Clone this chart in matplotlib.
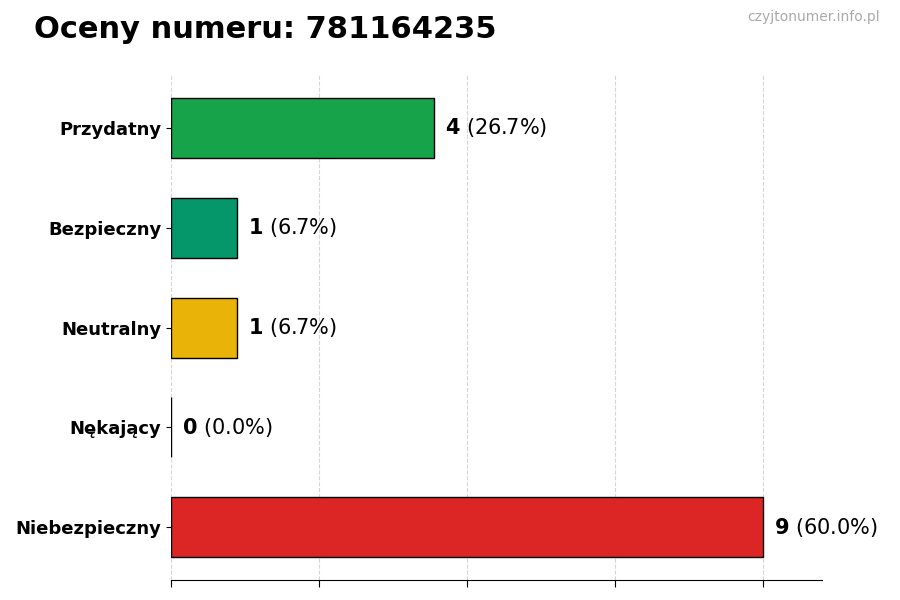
import matplotlib.pyplot as plt

# data
categories = ['Przydatny', 'Bezpieczny', 'Neutralny', 'Nękający', 'Niebezpieczny']
counts = [4, 1, 1, 0, 9]
colors = ['#16a34a', '#059669', '#eab308', '#6b7280', '#dc2626']
number = '781164235'

total = sum(counts)

fig = plt.figure(figsize=(9, 6), dpi=100)
ax = fig.add_axes([0.19, 0.033, 0.723, 0.842])

ypos = list(range(len(categories)))
ax.barh(ypos, counts, height=0.6, color=colors, edgecolor='black', linewidth=1, zorder=3)
ax.invert_yaxis()

ax.set_yticks(ypos)
ax.set_yticklabels(categories, fontsize=13, fontweight='bold')

xmax = max(counts)
ax.set_xlim(0, xmax * 1.1)
ax.set_xticks([xmax * i / 4 for i in range(5)])
ax.set_xticklabels([])
ax.tick_params(axis='x', length=5)

ax.grid(axis='x', linestyle='--', color='#cccccc', linewidth=0.8, alpha=0.8, zorder=0)
ax.set_axisbelow(True)

for s in ['top', 'right', 'left']:
    ax.spines[s].set_visible(False)

# value labels
for y, c in zip(ypos, counts):
    pct = c / total * 100
    ax.annotate(r'$\mathbf{' + str(c) + '}$' + ' ({:.1f}%)'.format(pct),
                xy=(c, y), xytext=(8, 0), textcoords='offset points',
                va='center', ha='left', fontsize=15)

fig.text(0.038, 0.95, 'Oceny numeru: ' + number, fontsize=22, fontweight='bold', va='center')
fig.text(0.978, 0.972, 'czyjtonumer.info.pl', fontsize=10, color='#aaaaaa', ha='right', va='center')

plt.savefig('out.png')
